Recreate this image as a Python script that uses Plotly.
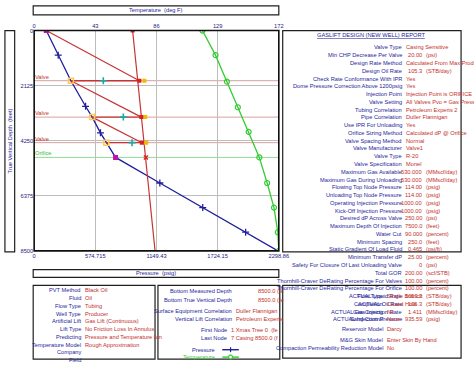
import plotly.graph_objects as go

W, H = 474, 366

# ---------------- data ----------------
temp_ticks = [0, 43, 86, 129, 172]
press_ticks = [0, 574.715, 1149.43, 1724.15, 2298.86]
press_tick_text = ["0", "574.715", "1149.43", "1724.15", "2298.86"]
depth_ticks = [0, 2125, 4250, 6375, 8500]

tubing_depth = [0, 949, 1935, 2922, 3340, 3947, 4326, 4895, 5882, 6831, 7780, 8500]
tubing_press = [114, 226, 345, 483, 545, 623, 678, 765, 1181, 1584, 1987, 2290]
tubing_marker_depth = [949, 2922, 3947, 5882, 6831, 7780]
tubing_marker_press = [226, 483, 623, 1181, 1584, 1987]

casing_depth = [0, 8500]
casing_press = [925, 1136]

valve_depth = [1935, 3340, 4326]
valve_tubing_press = [345, 545, 678]
valve_casing_press = [989, 1007, 1012]
valve_mid_press = [650, 838, 920]
valve_open_press = [1035, 1044, 1053]
orifice_depth = 4895
orifice_tubing_press = 765
orifice_casing_press = 1050

temp_depth = [0, 949, 1973, 2960, 3909, 4895, 5882, 6831, 7780, 8500]
temp_degF = [118.3, 127.5, 135.5, 143.2, 150.8, 158.3, 163.8, 168.6, 171.3, 172]

report_title = "GASLIFT DESIGN (NEW WELL) REPORT"
report_rows = [
    ("Valve Type", None, "Casing Sensitive"),
    ("Min CHP Decrease Per Valve", "20.00", "(psi)"),
    ("Design Rate Method", None, "Calculated From Max Production"),
    ("Design Oil Rate", "105.3", "(STB/day)"),
    ("Check Rate Conformance With IPR", None, "Yes"),
    ("Dome Pressure Correction Above 1200psig", None, "Yes"),
    ("Injection Point", None, "Injection Point is ORIFICE"),
    ("Valve Setting", None, "All Valves Pvo = Gas Pressure"),
    ("Tubing Correlation", None, "Petroleum Experts 2"),
    ("Pipe Correlation", None, "Duller Flannigan"),
    ("Use IPR For Unloading", None, "Yes"),
    ("Orifice Sizing Method", None, "Calculated dP @ Orifice"),
    ("Valve Spacing Method", None, "Normal"),
    ("Valve Manufacturer", None, "Valve1"),
    ("Valve Type", None, "R-20"),
    ("Valve Specification", None, "Monel"),
    ("Maximum Gas Available", "530.000", "(MMscf/day)"),
    ("Maximum Gas During Unloading", "530.000", "(MMscf/day)"),
    ("Flowing Top Node Pressure", "114.00", "(psig)"),
    ("Unloading Top Node Pressure", "114.00", "(psig)"),
    ("Operating Injection Pressure", "1000.00", "(psig)"),
    ("Kick-Off Injection Pressure", "1000.00", "(psig)"),
    ("Desired dP Across Valve", "250.00", "(psi)"),
    ("Maximum Depth Of Injection", "7500.0", "(feet)"),
    ("Water Cut", "90.000", "(percent)"),
    ("Minimum Spacing", "250.0", "(feet)"),
    ("Static Gradient Of Load Fluid", "0.465", "(psi/ft)"),
    ("Minimum Transfer dP", "25.00", "(percent)"),
    ("Safety For Closure Of Last Unloading Valve", "0", "(psi)"),
    ("Total GOR", "200.00", "(scf/STB)"),
    ("Thornhill-Craver DeRating Percentage For Valves", "100.00", "(percent)"),
    ("Thornhill-Craver DeRating Percentage For Orifice", "100.00", "(percent)"),
    ("ACTUAL Liquid Rate", "1053.2", "(STB/day)"),
    ("ACTUAL Oil Rate", "105.3", "(STB/day)"),
    ("ACTUAL Gas Injection Rate", "1.411", "(MMscf/day)"),
    ("ACTUAL Injection Pressure", "935.59", "(psig)"),
]
well_rows = [
    ("Flow Type", "Single Branch"),
    ("Completion", "Cased Hole"),
    ("Gas Coning", "No"),
    ("Sand Control", "None"),
]
reservoir_rows = [
    ("Reservoir Model", "Darcy"),
    ("M&G Skin Model", "Enter Skin By Hand"),
    ("Compaction Permeability Reduction Model", "No"),
]
options_rows = [
    ("PVT Method", "Black Oil"),
    ("Fluid", "Oil"),
    ("Flow Type", "Tubing"),
    ("Well Type", "Producer"),
    ("Artificial Lift", "Gas Lift (Continuous)"),
    ("Lift Type", "No Friction Loss In Annulus"),
    ("Predicting", "Pressure and Temperature (on"),
    ("Temperature Model", "Rough Approximation"),
    ("Company", ""),
    ("Field", ""),
]
depth_rows = [
    ("Bottom Measured Depth", "8500.0 (fe"),
    ("Bottom True Vertical Depth", "8500.0 (fe"),
]
corr_rows = [
    ("Surface Equipment Correlation", "Duller Flannigan"),
    ("Vertical Lift Correlation", "Petroleum Experts"),
]
node_rows = [
    ("First Node", "1 Xmas Tree 0  (fe"),
    ("Last Node", "7 Casing 8500.0 (f"),
]

# ---------------- style ----------------
FONT = "Liberation Sans, Arial, sans-serif"
FS = 5.7
LBL = "#25259a"
VAL = "#c3302c"
TUB = "#1f1f9e"
CAS = "#c83434"
GRN = "#33cc33"
TICK = "#1c1c84"

X0, X1, Y0, Y1 = 33, 284, 28, 252

fig = go.Figure()

# tubing pressure
fig.add_trace(go.Scatter(x=tubing_press, y=tubing_depth, mode="lines",
                         line=dict(color=TUB, width=1.3)))
fig.add_trace(go.Scatter(x=tubing_marker_press, y=tubing_marker_depth, mode="markers",
                         marker=dict(symbol="cross-thin", size=5, line=dict(color=TUB, width=1.3))))
# casing pressure
fig.add_trace(go.Scatter(x=casing_press, y=casing_depth, mode="lines",
                         line=dict(color=CAS, width=1.2)))
# unloading lines
ux, uy = [], []
sp = [tubing_press[0]] + valve_tubing_press[:-1]
sd = [tubing_depth[0]] + valve_depth[:-1]
for a, b, c, d in zip(sp, sd, valve_casing_press, valve_depth):
    ux += [a, c, None]
    uy += [b, d, None]
fig.add_trace(go.Scatter(x=ux, y=uy, mode="lines", line=dict(color=CAS, width=1.2)))
hx, hy = [], []
for a, c, d in zip(valve_tubing_press, valve_casing_press, valve_depth):
    hx += [a, c, None]
    hy += [d, d, None]
fig.add_trace(go.Scatter(x=hx, y=hy, mode="lines", line=dict(color=CAS, width=1.4)))
# markers
fig.add_trace(go.Scatter(x=valve_mid_press, y=valve_depth, mode="markers",
                         marker=dict(symbol="cross-thin", size=5, line=dict(color="#20a8a0", width=1.6))))
fig.add_trace(go.Scatter(x=valve_open_press, y=valve_depth, mode="markers",
                         marker=dict(symbol="square", size=4, color="#f5b800")))
fig.add_trace(go.Scatter(x=valve_casing_press + [casing_press[0]], y=valve_depth + [0], mode="markers",
                         marker=dict(symbol="square", size=4, color="#d82020")))
fig.add_trace(go.Scatter(x=[orifice_casing_press], y=[orifice_depth], mode="markers",
                         marker=dict(symbol="x-thin", size=4, line=dict(color="#d82020", width=1.5))))
fig.add_trace(go.Scatter(x=valve_tubing_press, y=valve_depth, mode="markers",
                         marker=dict(symbol="square-open", size=5, line=dict(color="#20a0a0", width=1.5))))
fig.add_trace(go.Scatter(x=[tubing_press[0], orifice_tubing_press], y=[0, orifice_depth], mode="markers",
                         marker=dict(symbol="square", size=5, color="#c010b0")))
# temperature
fig.add_trace(go.Scatter(x=temp_degF, y=temp_depth, mode="lines+markers", xaxis="x2", yaxis="y",
                         line=dict(color=GRN, width=1.3),
                         marker=dict(symbol="circle-open", size=5, line=dict(color=GRN, width=1.2))))

shapes = []
annotations = []


def px_rect(x0, y0, x1, y1, w=1.2):
    shapes.append(dict(type="rect", xref="paper", yref="paper", x0=x0 / W, x1=x1 / W,
                       y0=1 - y1 / H, y1=1 - y0 / H, line=dict(color="#202020", width=w)))


def txt(x, y, s, color, anchor="left", size=FS, **kw):
    annotations.append(dict(x=x / W, y=1 - y / H, xref="paper", yref="paper", text=s,
                            showarrow=False, xanchor=anchor, yanchor="middle", borderpad=0,
                            font=dict(size=size, color=color, family=FONT), **kw))


# reference lines for valves / orifice
for d in valve_depth:
    shapes.append(dict(type="line", xref="x domain", yref="y", x0=0, x1=1, y0=d, y1=d,
                       line=dict(color="#d8a0a0", width=1), layer="below"))
    annotations.append(dict(x=X0 / W, xref="paper", y=d, yref="y", text="Valve", showarrow=False,
                            xanchor="left", yanchor="bottom", borderpad=0,
                            font=dict(size=FS, color=VAL, family=FONT)))
shapes.append(dict(type="line", xref="x domain", yref="y", x0=0, x1=1, y0=orifice_depth, y1=orifice_depth,
                   line=dict(color="#90dc90", width=1), layer="below"))
annotations.append(dict(x=X0 / W, xref="paper", y=orifice_depth, yref="y", text="Orifice", showarrow=False,
                        xanchor="left", yanchor="bottom", borderpad=0,
                        font=dict(size=FS, color="#30c030", family=FONT)))

# plot frame
shapes.append(dict(type="rect", xref="x domain", yref="y domain", x0=0, x1=1, y0=0, y1=1,
                   line=dict(color="#101010", width=1.6)))

# boxes
px_rect(3, 28, 13, 253)
px_rect(32, 3, 284, 12)
px_rect(32, 271, 284, 279)
px_rect(288, 28, 471, 253)
px_rect(32, 287, 157, 362)
px_rect(160, 287, 285, 362)
px_rect(288, 287, 471, 361)

txt(158, 7.5, "Temperature  (deg F)", LBL, "center")
txt(158, 275, "Pressure  (psig)", LBL, "center")
txt(8, 140, "True Vertical Depth  (feet)", LBL, "center", textangle=-90)

# report
txt(379, 33, "<u>" + report_title + "</u>", LBL, "center")
for i, (lab, num, unit) in enumerate(report_rows):
    y = 45.2 + i * 7.9
    txt(411.5, y, lab, LBL, "right")
    if num is None:
        txt(413, y, unit, VAL, "left")
    else:
        txt(432, y, num, VAL, "right")
        txt(434, y, unit, VAL, "left")
for i, (lab, val) in enumerate(well_rows):
    y = 45.2 + (32 + i) * 7.9
    txt(392, y, lab, LBL, "right")
    txt(394, y, val, VAL, "left")
for (lab, val), y in zip(reservoir_rows, [331, 343, 351]):
    txt(392, y, lab, LBL, "right")
    txt(394, y, val, VAL, "left")

for i, (lab, val) in enumerate(options_rows):
    y = 292 + i * 7.9
    txt(82, y, lab, LBL, "right")
    if val:
        txt(84, y, val, VAL, "left")

for (lab, val), y in zip(depth_rows, [293, 301.5]):
    txt(237, y, lab, LBL, "right")
    txt(262, y, val, VAL, "left")
for (lab, val), y in zip(corr_rows, [313, 321]):
    txt(237, y, lab, LBL, "right")
    txt(239, y, val, VAL, "left")
for (lab, val), y in zip(node_rows, [332.5, 340.5]):
    txt(232, y, lab, LBL, "right")
    txt(234, y, val, VAL, "left")

# legend samples
txt(220, 352.5, "Pressure", LBL, "right")
txt(220, 360, "Temperature", GRN, "right")
shapes.append(dict(type="line", xref="paper", yref="paper", x0=226 / W, x1=243 / W,
                   y0=1 - 352.5 / H, y1=1 - 352.5 / H, line=dict(color=TUB, width=1.4)))
shapes.append(dict(type="line", xref="paper", yref="paper", x0=234.5 / W, x1=234.5 / W,
                   y0=1 - 350 / H, y1=1 - 355 / H, line=dict(color=TUB, width=1.2)))
shapes.append(dict(type="line", xref="paper", yref="paper", x0=226 / W, x1=243 / W,
                   y0=1 - 360 / H, y1=1 - 360 / H, line=dict(color=GRN, width=1.4)))
shapes.append(dict(type="circle", xref="paper", yref="paper", x0=232.5 / W, x1=236.5 / W,
                   y0=1 - 362 / H, y1=1 - 358 / H, line=dict(color=GRN, width=1.1), fillcolor="white"))

tickfont = dict(size=FS, color=TICK, family=FONT)
fig.update_layout(
    width=W, height=H, autosize=False, margin=dict(l=0, r=0, t=0, b=0),
    paper_bgcolor="white", plot_bgcolor="white", showlegend=False,
    xaxis=dict(domain=[X0 / W, X1 / W], range=[0, 2298.86], tickvals=press_ticks, ticktext=press_tick_text,
               showgrid=True, gridcolor="#bdbdbd", gridwidth=1, zeroline=False, showline=False,
               ticks="", tickfont=tickfont, fixedrange=True),
    xaxis2=dict(overlaying="x", side="top", anchor="y", range=[0, 172], tickvals=temp_ticks,
                showgrid=False, zeroline=False, showline=False, ticks="", tickfont=tickfont),
    yaxis=dict(domain=[1 - Y1 / H, 1 - Y0 / H], range=[8500, 0], tickvals=depth_ticks,
               showgrid=True, gridcolor="#bdbdbd", gridwidth=1, zeroline=False, showline=False,
               ticks="", tickfont=tickfont),
    shapes=shapes, annotations=annotations,
)

fig.write_html("out.html", config={"displayModeBar": False},
               post_script="document.body.style.margin='0';document.body.style.overflow='hidden';")
